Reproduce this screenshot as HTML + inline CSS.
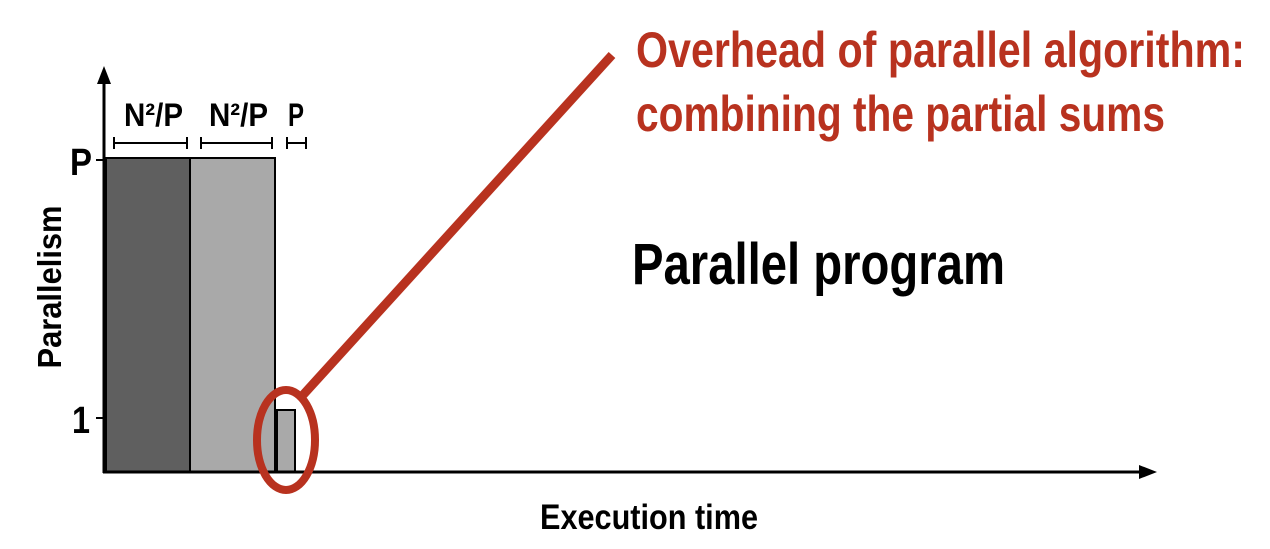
<!DOCTYPE html>
<html><head><style>
body{margin:0;background:#fff;}
svg text{font-family:"Liberation Sans",sans-serif;font-weight:bold;}
</style></head><body>
<svg width="1270" height="544" viewBox="0 0 1270 544">
<rect x="106" y="158" width="84" height="314" fill="#5f5f5f" stroke="#000" stroke-width="2"/>
<rect x="190" y="158" width="85" height="314" fill="#a9a9a9" stroke="#000" stroke-width="2"/>
<rect x="277" y="410" width="18" height="62" fill="#a9a9a9" stroke="#000" stroke-width="2"/>
<line x1="104" y1="80" x2="104" y2="473" stroke="#000" stroke-width="3"/>
<polygon points="104,66 97,84 111,84" fill="#000"/>
<line x1="103" y1="472" x2="1142" y2="472" stroke="#000" stroke-width="3"/>
<polygon points="1157,472 1139,465 1139,479" fill="#000"/>
<line x1="96" y1="160" x2="106" y2="160" stroke="#000" stroke-width="2"/>
<line x1="96" y1="418" x2="106" y2="418" stroke="#000" stroke-width="2"/>
<g stroke="#000" stroke-width="2">
<line x1="114" y1="143" x2="187" y2="143"/><line x1="114" y1="137" x2="114" y2="149"/><line x1="187" y1="137" x2="187" y2="149"/>
<line x1="201" y1="143" x2="272" y2="143"/><line x1="201" y1="137" x2="201" y2="149"/><line x1="272" y1="137" x2="272" y2="149"/>
<line x1="287" y1="143" x2="306" y2="143"/><line x1="287" y1="137" x2="287" y2="149"/><line x1="306" y1="137" x2="306" y2="149"/>
</g>
<text x="124" y="126" font-size="32" textLength="59" lengthAdjust="spacingAndGlyphs">N²/P</text>
<text x="209" y="126" font-size="32" textLength="59" lengthAdjust="spacingAndGlyphs">N²/P</text>
<text x="288" y="126" font-size="32" textLength="16" lengthAdjust="spacingAndGlyphs">P</text>
<text x="70" y="175" font-size="38" textLength="22" lengthAdjust="spacingAndGlyphs">P</text>
<text x="72" y="433" font-size="38" textLength="18" lengthAdjust="spacingAndGlyphs">1</text>
<text transform="translate(61,287) rotate(-90)" text-anchor="middle" font-size="33" textLength="163" lengthAdjust="spacingAndGlyphs">Parallelism</text>
<text x="540" y="529" font-size="35" textLength="218" lengthAdjust="spacingAndGlyphs">Execution time</text>
<text x="632" y="284" font-size="58" textLength="373" lengthAdjust="spacingAndGlyphs">Parallel program</text>
<line x1="303" y1="395" x2="612" y2="55" stroke="#b8321f" stroke-width="9"/>
<ellipse cx="286" cy="440" rx="29" ry="50" fill="none" stroke="#b8321f" stroke-width="8"/>
<text x="636" y="67" font-size="50" fill="#b8321f" textLength="609" lengthAdjust="spacingAndGlyphs">Overhead of parallel algorithm:</text>
<text x="636" y="131" font-size="50" fill="#b8321f" textLength="529" lengthAdjust="spacingAndGlyphs">combining the partial sums</text>
</svg>
</body></html>
